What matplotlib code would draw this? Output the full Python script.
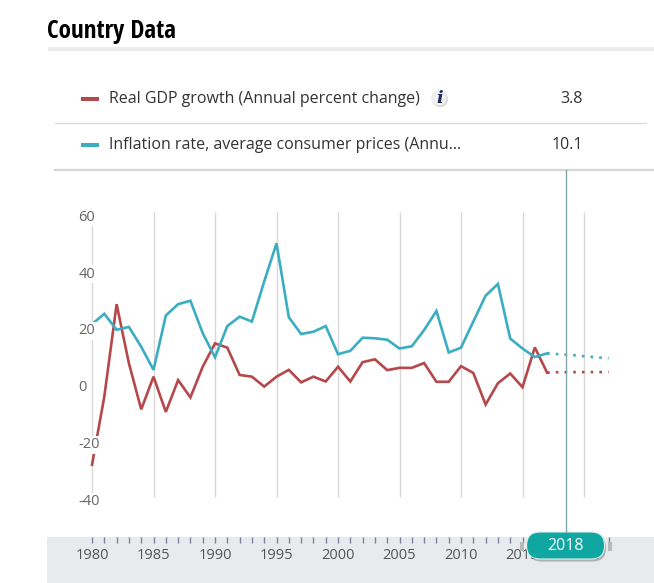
import matplotlib
matplotlib.use("Agg")
import matplotlib.pyplot as plt
from matplotlib.patches import Rectangle, FancyBboxPatch, Circle

plt.rcParams['font.family'] = ['Open Sans', 'DejaVu Sans']

# ---- data ----
years = list(range(1980, 2018))
gdp_growth = [-28.8, -4.8, 27.7, 6.9, -9.3, 2.2, -10.2, 1.0, -5.1, 5.7,
              13.9, 12.4, 2.8, 2.2, -1.3, 2.2, 4.6, 0.2, 2.2, 0.5,
              5.7, 0.5, 7.3, 8.3, 4.5, 5.3, 5.3, 7.0, 0.4, 0.4,
              5.9, 3.5, -7.6, -0.1, 3.3, -1.5, 12.5, 3.6]
inflation = [20.7, 24.3, 18.7, 19.7, 12.7, 4.6, 23.7, 27.7, 28.9, 17.5,
             9.0, 20.0, 23.3, 21.6, 35.7, 49.1, 23.1, 17.2, 18.0, 20.0,
             10.1, 11.3, 15.9, 15.7, 15.2, 12.1, 12.9, 18.6, 25.3, 10.7,
             12.4, 21.6, 30.7, 34.8, 15.6, 12.1, 9.1, 10.4]
# projections (dotted), starting from the last actual year
proj_years = [2017, 2018, 2019, 2020, 2021, 2022]
gdp_proj = [3.6, 3.8, 3.8, 3.8, 3.8, 3.8]
infl_proj = [10.4, 10.1, 9.8, 9.4, 9.0, 8.7]

series_names = ["Real GDP growth (Annual percent change)",
                "Inflation rate, average consumer prices (Annu..."]
selected_year = 2018
selected_values = ["3.8", "10.1"]
y_ticks = [60, 40, 20, 0, -20, -40]
grid_years = [1985, 1990, 1995, 2000, 2005, 2010, 2015, 2020]
slider_years = list(range(1980, 2023))
slider_labels = list(range(1980, 2021, 5))

RED = "#b5484b"
CYAN = "#3aaec0"
W, H = 654, 583

fig = plt.figure(figsize=(W / 100, H / 100), dpi=100)
fig.patch.set_facecolor("white")

xlim = (1976.34, 2025.69)

# ---- main chart ----
ax = fig.add_axes([47 / W, (H - 537) / H, (W - 47) / W, (537 - 170) / H], zorder=1)
ax.set_xlim(*xlim)
ax.set_ylim(-54.2, 74.9)
ax.axis("off")

ax.vlines(grid_years, -40, 60, color="#d9d9d9", lw=1, zorder=1)
ax.vlines([1980], -40, 60, color="#d9d9d9", lw=1, zorder=1)

ax.plot(years, gdp_growth, color=RED, lw=1.9, zorder=3, solid_joinstyle="miter")
ax.plot(years, inflation, color=CYAN, lw=1.9, zorder=3, solid_joinstyle="miter")
ax.plot(proj_years, gdp_proj, color=RED, lw=1.9, dashes=(1, 2.3), zorder=3)
ax.plot(proj_years, infl_proj, color=CYAN, lw=1.9, dashes=(1, 2.3), zorder=3)

for t in y_ticks:
    ax.annotate(str(t), (1978.9, t), xytext=(0, -3.5), textcoords="offset points",
                ha="left", va="center", fontsize=10.5, color="#666666", zorder=5,
                bbox=dict(boxstyle="square,pad=0.1", fc="white", ec="none"))

# ---- year slider ----
sl = fig.add_axes([47 / W, 0, (W - 47) / W, (583 - 537) / H], zorder=1)
sl.set_xlim(*xlim)
sl.set_ylim(46, 0)
sl.set_facecolor("#e8ebee")
for s in sl.spines.values():
    s.set_visible(False)
sl.set_xticks([])
sl.set_yticks([])
sl.vlines(slider_years, 0, 6, color="#7d809c", lw=1)
for yr in slider_labels:
    sl.text(yr, 18.5, str(yr), ha="center", va="center", fontsize=10.5, color="#555555")

# ---- overlay in pixel coords ----
ov = fig.add_axes([0, 0, 1, 1], zorder=2)
ov.set_xlim(0, W)
ov.set_ylim(H, 0)
ov.axis("off")
ov.patch.set_alpha(0)

title_fs = 18
title = ov.text(47, 31.5, "Country Data", fontsize=title_fs, color="#000000",
                va="center", ha="left", fontstretch="condensed", fontweight="normal",
                family=["Open Sans Condensed", "Roboto Condensed",
                        "DejaVu Sans Condensed", "Open Sans"])
ov.add_patch(Rectangle((48, 47), W - 48, 4, color="#ececec", lw=0))

row_y = [98.7, 144.7]
for (name, val, col, yy) in zip(series_names, selected_values, [RED, CYAN], row_y):
    ov.plot([81, 99], [yy, yy], color=col, lw=2.9, solid_capstyle="butt")
    ov.text(109, yy, name, fontsize=11.5, color="#333333", va="center", ha="left")
    ov.text(583, yy, val, fontsize=11.5, color="#333333", va="center", ha="right")

ov.plot([55, 646], [123.3, 123.3], color="#dddddd", lw=1)
ov.plot([55, W], [170, 170], color="#d6d6d6", lw=1.6)

# info icon
ov.add_patch(Circle((440.2, 99.4), 7.8, color="#bdbdbd", lw=0, alpha=0.6))
ov.add_patch(Circle((439.3, 98.3), 7.5, fc="#f1f1f1", ec="#e2e2e2", lw=0.5))
ov.text(439.3, 98.3, "i", fontsize=12.5, fontstyle="italic", fontweight="bold",
        family=["DejaVu Serif"], color="#1d2b5c", ha="center", va="center")

# cursor line and selected year bubble
cx = ax.transData.transform((selected_year + 0.5, 0))[0]
ov.plot([cx, cx], [170, 532], color="#82a9ad", lw=1)
for dx in (-46, 42):
    ov.add_patch(Rectangle((cx + dx, 542), 4, 9, color="#b9b9b9", lw=0))
ov.add_patch(FancyBboxPatch((cx - 39 + 1.5, 532 + 2.5), 78, 27,
                            boxstyle="round,pad=0,rounding_size=13.5",
                            fc="#000000", ec="none", alpha=0.25))
ov.add_patch(FancyBboxPatch((cx - 39, 532), 78, 27,
                            boxstyle="round,pad=0,rounding_size=13.5",
                            fc="#10a6a1", ec="#e0f0ef", lw=0.8))
ov.text(cx, 545.5, str(selected_year), fontsize=11.5, color="white",
        ha="center", va="center")

# keep the title to the width it has in the header
fig.canvas.draw()
tw = title.get_window_extent().width
if tw > 130:
    title.set_fontsize(title_fs * 130 / tw)

fig.savefig("out.png", dpi=100)
